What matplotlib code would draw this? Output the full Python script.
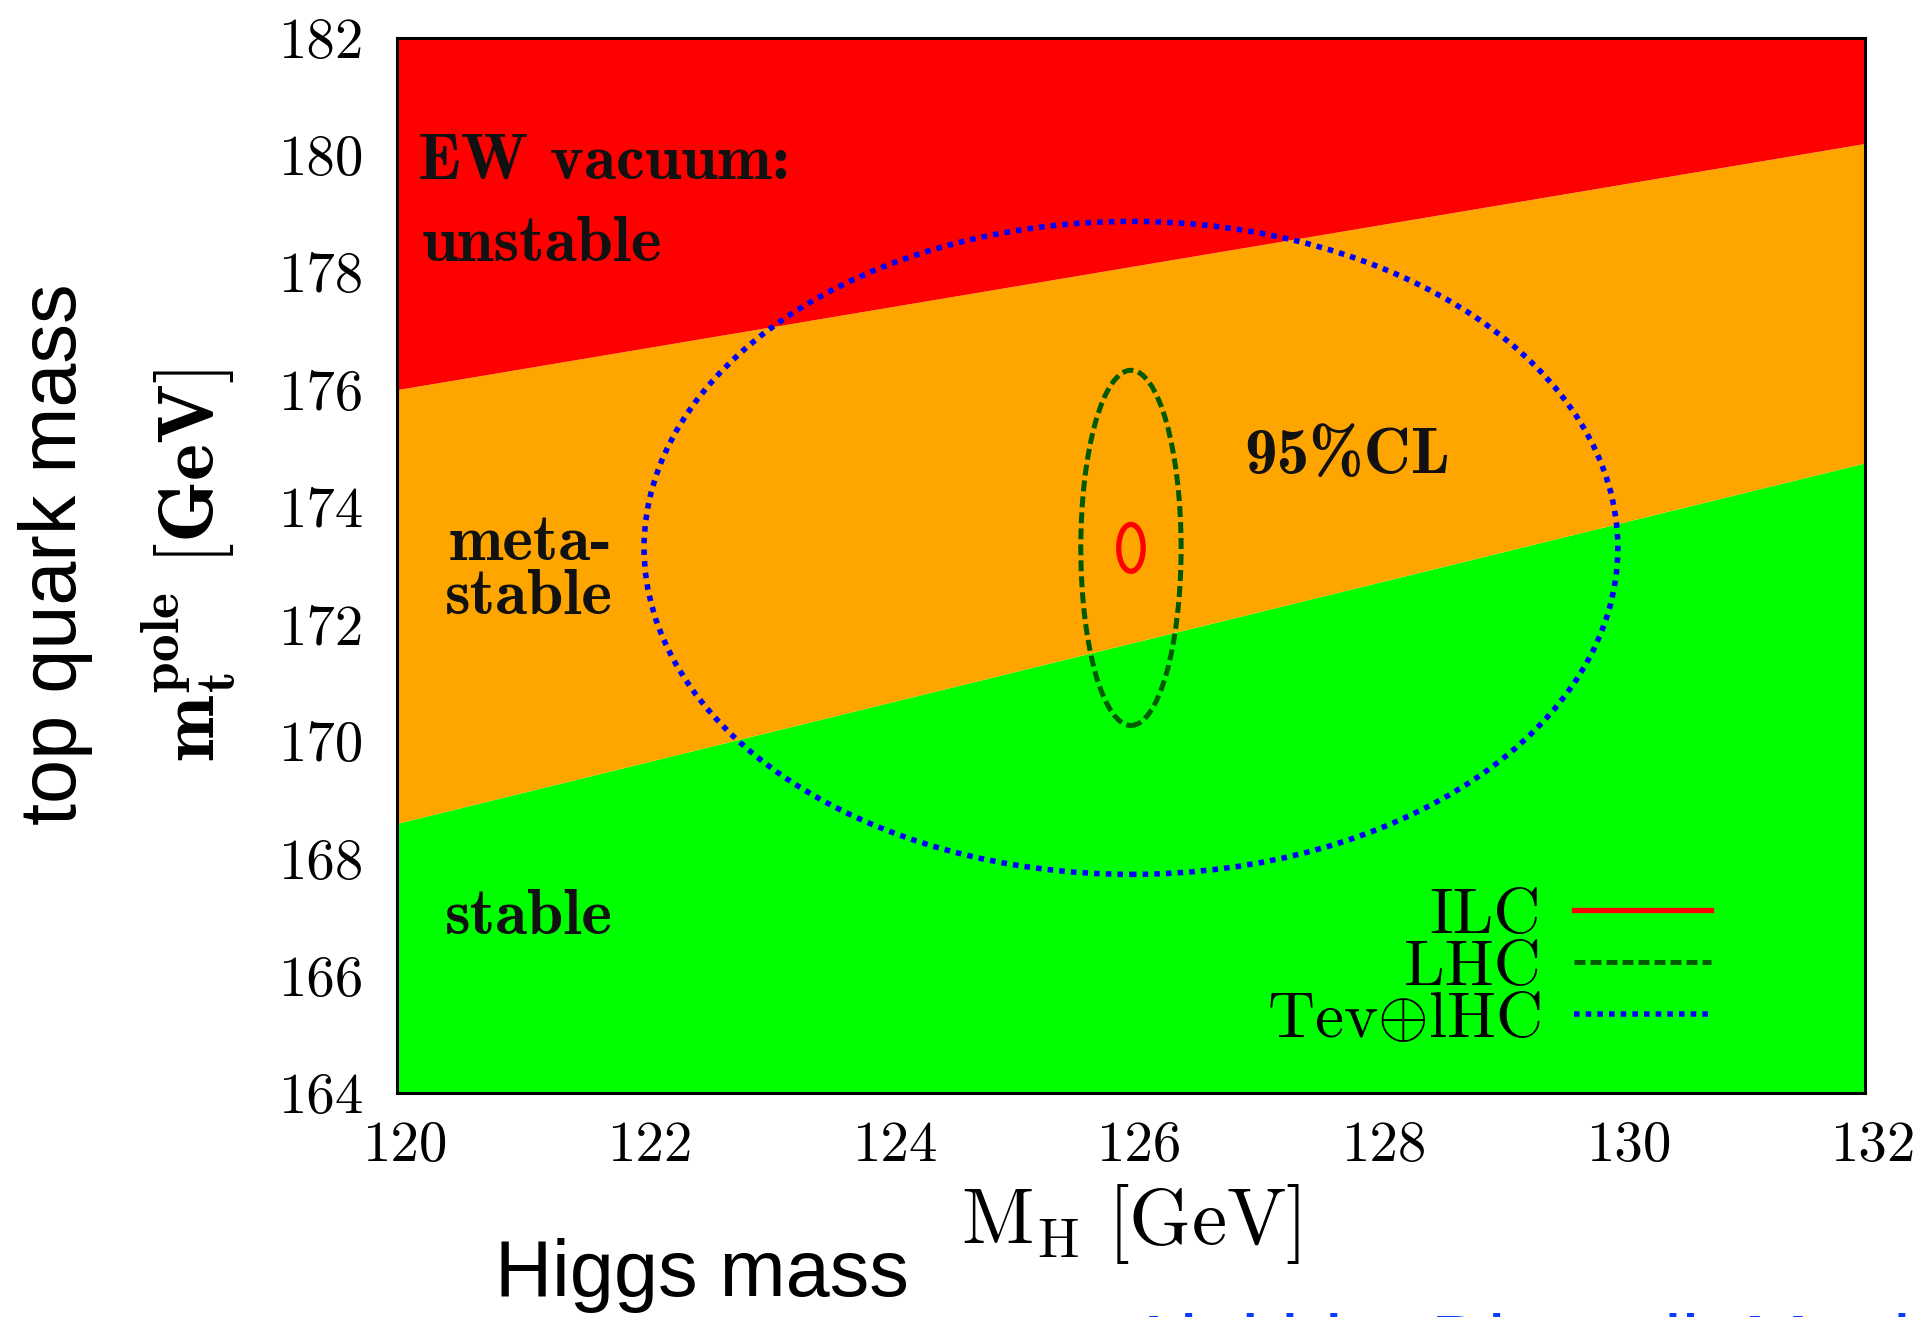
import numpy as np
import matplotlib
matplotlib.use('Agg')
import matplotlib.pyplot as plt
import matplotlib.transforms as mtransforms
from matplotlib.patches import Ellipse

################################################################################
# Datos
mh = [120.0, 132.0]                 # M_H [GeV], extremos del eje
frontera_sup = [176.0, 180.2]       # inestable / metaestable
frontera_inf = [168.6, 174.75]      # metaestable / estable
y_min, y_max = 164, 182

# Elipses 95% CL: centro (M_H, m_t) y semiejes
nombres = ['ILC', 'LHC', r'Tev$\oplus$lHC']
centros = [(126.0, 173.3), (126.0, 173.3), (126.0, 173.3)]
semi_x = [0.10, 0.41, 3.98]
semi_y = [0.40, 3.03, 5.57]
colores = ['#ff0000', '#005a00', '#0000ff']
estilos = ['-', (0, (2.2, 1.0)), (0, (1.0, 1.1))]
grosores = [3.8, 3.6, 4.0]

xticks = [120, 122, 124, 126, 128, 130, 132]
yticks = [164, 166, 168, 170, 172, 174, 176, 178, 180, 182]
################################################################################

plt.rcParams['mathtext.fontset'] = 'cm'
plt.rcParams['axes.unicode_minus'] = False

fig = plt.figure(figsize=(19.26, 13.17), dpi=100)
ax = fig.add_axes([0.2061, 0.1701, 0.7622, 0.8011])

# Regiones de estabilidad
ax.fill_between(mh, y_min, frontera_inf, color='#00ff00', lw=0)
ax.fill_between(mh, frontera_inf, frontera_sup, color='#ffa500', lw=0)
ax.fill_between(mh, frontera_sup, y_max, color='#ff0000', lw=0)

# Elipses
for i in range(len(nombres)):
  e = Ellipse(centros[i], 2*semi_x[i], 2*semi_y[i], fill=False,
              ec=colores[i], ls=estilos[i], lw=grosores[i])
  ax.add_patch(e)
  ax.plot([], [], color=colores[i], ls=estilos[i], lw=grosores[i], label=nombres[i])

ax.set_xlim(mh)
ax.set_ylim(y_min, y_max)
ax.set_xticks(xticks)
ax.set_yticks(yticks)
ax.tick_params(length=0, labelsize=41, pad=24)
ax.tick_params(axis='x', pad=20)
desplaza = mtransforms.ScaledTranslation(0.08, 0, fig.dpi_scale_trans)
for lab in ax.get_xticklabels():
  lab.set_transform(lab.get_transform() + desplaza)
for lab in ax.get_xticklabels() + ax.get_yticklabels():
  lab.set_family('cmr10')
for s in ax.spines.values():
  s.set_linewidth(2.2)

# Etiquetas de regiones
fb = dict(family='cmb10', fontsize=47, color='#111111')
ax.text(120.17, 179.6, 'EW vacuum:', **fb)
ax.text(120.2, 178.2, 'unstable', **fb)
ax.text(120.42, 173.1, 'meta-', **fb)
ax.text(120.39, 172.17, 'stable', **fb)
ax.text(120.39, 166.72, 'stable', **fb)
ax.text(126.93, 174.58, '95%CL', **fb)

# Leyenda
leg = ax.legend(loc='center right', bbox_to_anchor=(0.895, 0.118), frameon=False,
                markerfirst=False, labelspacing=-0.1, handlelength=2.1,
                handletextpad=0.5, borderpad=0, borderaxespad=0,
                prop={'family': 'cmr10', 'size': 47})
for t in leg.get_texts():
  t.set_ha('right')

ax.set_xlabel(r'$\mathrm{M_H\ [GeV]}$', fontsize=57)
ax.xaxis.set_label_coords(0.5, -0.084)
ax.xaxis.label.set_va('top')
ax.set_ylabel(r'$\mathbf{m_t^{pole}\ [GeV]}$', fontsize=57)
ax.yaxis.set_label_coords(-0.108, 0.5)

# Textos de la diapositiva
fig.text(0.0286, 0.579, 'top quark mass', family='Liberation Sans', fontsize=57,
         rotation=90, ha='center', va='center')
fig.text(0.257, 0.016, 'Higgs mass', family='Liberation Sans', fontsize=57,
         ha='left', va='baseline')
fig.text(0.585, -0.041, 'Alekhin, Djouadi, Moch, 1207.0980', family='Liberation Sans',
         fontsize=57, color='#0a3cff', ha='left', va='baseline')

fig.savefig('out.png', dpi=100)
